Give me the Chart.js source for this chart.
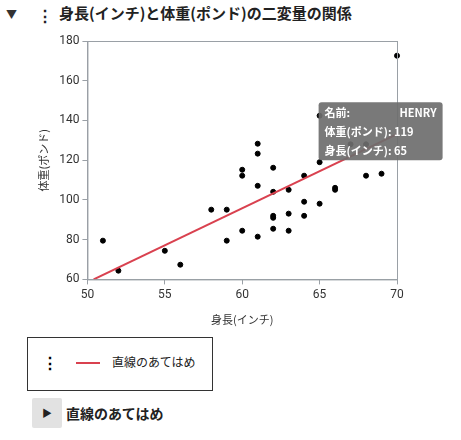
<!DOCTYPE html>
<html><head><meta charset="utf-8">
<script src="https://cdn.jsdelivr.net/npm/chart.js@4/dist/chart.umd.min.js"></script>
<style>
body{margin:0;width:461px;height:440px;font-family:"Noto Sans CJK JP","Noto Sans",sans-serif;background:#fff;position:relative;overflow:hidden}
.abs{position:absolute}
</style></head><body>
<div class="abs" style="left:6px;top:6px;font-size:11px;color:#333">▼</div>
<div class="abs" style="left:37px;top:3px;font-size:16px;font-weight:bold;color:#222">⋮</div>
<div class="abs" style="left:59px;top:2px;font-size:15px;font-weight:bold;color:#222">身長(インチ)と体重(ポンド)の二変量の関係</div>
<canvas id="c" width="461" height="300" class="abs" style="left:0;top:30px"></canvas>
<div class="abs" style="left:27px;top:337px;width:184px;height:52px;border:1px solid #333"></div>
<div class="abs" style="left:42px;top:350px;font-size:16px;font-weight:bold">⋮</div>
<div class="abs" style="left:76px;top:362px;width:24px;height:2px;background:#d9414f"></div>
<div class="abs" style="left:112px;top:353px;font-size:12px;color:#222">直線のあてはめ</div>
<div class="abs" style="left:32px;top:398px;width:30px;height:30px;background:#e2e2e2;border-radius:2px"></div>
<div class="abs" style="left:42px;top:405px;font-size:10px;color:#222">▶</div>
<div class="abs" style="left:66px;top:403px;font-size:14px;font-weight:bold;color:#222">直線のあてはめ</div>
<script>
const heights=[51,52,55,56,58,59,59,60,60,60,61,61,61,61,62,62,62,62,62,63,63,63,64,64,64,65,65,65,66,66,67,68,68,69,70];
const weights=[79.5,64.4,74.4,67.4,95.1,95.1,79.5,115.2,112.2,84.5,128.3,123.3,107.1,81.5,116.2,104.1,92,91,85.5,105.1,93.1,84.5,112.2,99.1,92,142.4,119,98.1,106.1,105.1,128,128,112.2,113.2,172.6];
const fitX=[50.4,70];
const fitY=[60,133.1];
const tipName="HENRY", tipW=119, tipH=65;
const pts=heights.map((h,i)=>({x:h,y:weights[i]}));
const frame={id:'frame',afterDraw(c){const a=c.chartArea,x=c.ctx;x.save();x.strokeStyle='#9aa0a6';x.lineWidth=1;x.strokeRect(a.left+.5,a.top+.5,a.right-a.left,a.bottom-a.top);
 const px=c.scales.x.getPixelForValue(tipH),py=c.scales.y.getPixelForValue(tipW);
 const L=px-1,T=py-60,W=124,H=58;x.fillStyle='rgba(110,110,110,0.92)';x.beginPath();x.roundRect(L,T,W,H,3);x.fill();
 x.fillStyle='#fff';x.font='bold 11px "Noto Sans CJK JP"';x.textBaseline='middle';
 x.fillText('名前:',L+6,T+11);x.textAlign='right';x.fillText(tipName,L+W-6,T+11);x.textAlign='left';
 x.fillText('体重(ポンド): '+tipW,L+6,T+30);x.fillText('身長(インチ): '+tipH,L+6,T+49);x.restore();}};
new Chart(document.getElementById('c'),{
 data:{datasets:[
  {type:'line',data:fitX.map((v,i)=>({x:v,y:fitY[i]})),borderColor:'#d9414f',borderWidth:2,pointRadius:0},
  {type:'scatter',data:pts,backgroundColor:'#000',borderColor:'#000',pointRadius:2.5,clip:false}]},
 options:{responsive:false,animation:false,devicePixelRatio:1,
  layout:{padding:{left:33,right:64,top:11,bottom:0}},
  plugins:{legend:{display:false},tooltip:{enabled:false}},
  scales:{
   x:{type:'linear',min:50,max:70,ticks:{stepSize:5,color:'#333',font:{size:12,family:'Roboto'}},grid:{drawOnChartArea:false,tickLength:5,color:'#9aa0a6'},border:{color:'#9aa0a6'},
      title:{display:true,text:'身長(インチ)',color:'#333',font:{size:11,family:'Noto Sans CJK JP'},padding:{top:8}}},
   y:{min:60,max:180,ticks:{stepSize:20,color:'#333',font:{size:12,family:'Roboto'}},grid:{drawOnChartArea:false,tickLength:5,color:'#9aa0a6'},border:{color:'#9aa0a6'},
      title:{display:true,text:'体重(ポンド)',color:'#333',font:{size:11,family:'Noto Sans CJK JP'},padding:{bottom:6}}}}},
 plugins:[frame]});
</script></body></html>
